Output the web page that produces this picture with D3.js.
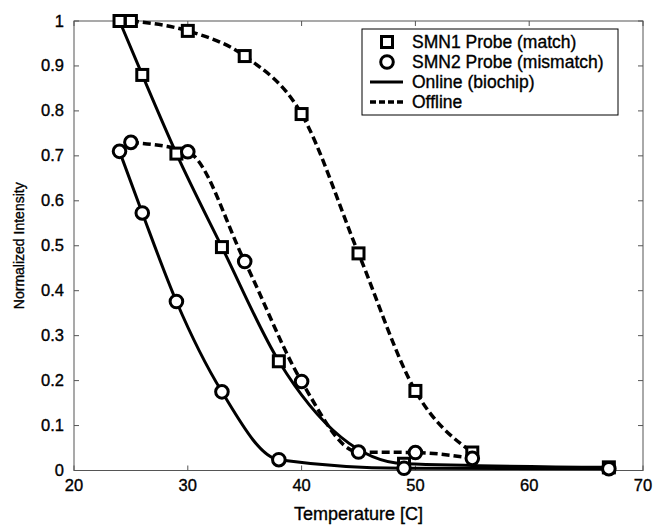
<!DOCTYPE html>
<html><head><meta charset="utf-8">
<script src="https://cdn.jsdelivr.net/npm/d3@7"></script>
<style>body{margin:0;background:#fff}svg{display:block}text{font-family:"Liberation Sans",Arial,sans-serif;fill:#000;stroke:#000;stroke-width:0.35px}</style>
</head><body><svg id="c" width="655" height="525"></svg>
<script>
const xTicks = [20,30,40,50,60,70];
const yTicks = [0,0.1,0.2,0.3,0.4,0.5,0.6,0.7,0.8,0.9,1];
const yTickLabels = ["0","0.1","0.2","0.3","0.4","0.5","0.6","0.7","0.8","0.9","1"];

const onlineT = [24,26,29,33,38,49,67];
const smn1Online = [1.0,0.88,0.705,0.497,0.243,0.015,0.007];
const smn2Online = [0.71,0.573,0.376,0.175,0.024,0.005,0.004];

const offlineT = [25,30,35,40,45,50,55];
const smn1Offline = [1.0,0.978,0.922,0.793,0.483,0.177,0.04];
const smn2Offline = [0.73,0.709,0.465,0.198,0.041,0.04,0.027];

const legendLabels = ["SMN1 Probe (match)","SMN2 Probe (mismatch)","Online (biochip)","Offline"];

const svg = d3.select("#c");
const L=74,R=643,T=21,B=470.5;
const x = d3.scaleLinear().domain([20,70]).range([L,R]);
const y = d3.scaleLinear().domain([0,1]).range([B,T]);
const axisColor="#555";

svg.append("rect").attr("x",L).attr("y",T).attr("width",R-L).attr("height",B-T)
  .attr("fill","none").attr("stroke",axisColor).attr("stroke-width",1);

const tl=5;
xTicks.forEach(v=>{
  svg.append("line").attr("x1",x(v)).attr("x2",x(v)).attr("y1",B).attr("y2",B-tl).attr("stroke",axisColor);
  svg.append("line").attr("x1",x(v)).attr("x2",x(v)).attr("y1",T).attr("y2",T+tl).attr("stroke",axisColor);
  svg.append("text").attr("x",x(v)).attr("y",B+20).attr("text-anchor","middle").attr("font-size",16.5).text(v);
});
yTicks.forEach((v,i)=>{
  svg.append("line").attr("x1",L).attr("x2",L+tl).attr("y1",y(v)).attr("y2",y(v)).attr("stroke",axisColor);
  svg.append("line").attr("x1",R).attr("x2",R-tl).attr("y1",y(v)).attr("y2",y(v)).attr("stroke",axisColor);
  svg.append("text").attr("x",L-10).attr("y",y(v)+5.5).attr("text-anchor","end").attr("font-size",16.5).text(yTickLabels[i]);
});

svg.append("text").attr("x",(L+R)/2).attr("y",520).attr("text-anchor","middle").attr("font-size",18).text("Temperature [C]");
svg.append("text").attr("transform",`translate(24,${(T+B)/2}) rotate(-90)`).attr("text-anchor","middle").attr("font-size",14).text("Normalized Intensity");

const line = d3.line().x(d=>x(d[0])).y(d=>y(d[1])).curve(d3.curveMonotoneX);
const g = svg.append("g");
function drawLine(ts,vs,dashed){
  g.append("path").datum(ts.map((t,i)=>[t,vs[i]])).attr("d",line).attr("fill","none")
   .attr("stroke","#000").attr("stroke-width",dashed?3.5:3)
   .attr("stroke-dasharray",dashed?"8,4":null);
}
drawLine(onlineT,smn1Online,false);
drawLine(onlineT,smn2Online,false);
drawLine(offlineT,smn1Offline,true);
drawLine(offlineT,smn2Offline,true);

function square(sel,px,py){
  sel.append("rect").attr("x",px-5.5).attr("y",py-5.5).attr("width",11).attr("height",11)
   .attr("fill","#fff").attr("stroke","#000").attr("stroke-width",3);
}
function circle(sel,px,py){
  sel.append("circle").attr("cx",px).attr("cy",py).attr("r",6.3)
   .attr("fill","#fff").attr("stroke","#000").attr("stroke-width",3);
}
onlineT.forEach((t,i)=>{square(g,x(t),y(smn1Online[i])); circle(g,x(t),y(smn2Online[i]));});
offlineT.forEach((t,i)=>{square(g,x(t),y(smn1Offline[i])); circle(g,x(t),y(smn2Offline[i]));});

// legend
const lg = svg.append("g");
const lx=362, ly=29, lw=256, lh=86;
lg.append("rect").attr("x",lx).attr("y",ly).attr("width",lw).attr("height",lh).attr("fill","#fff").attr("stroke","#000").attr("stroke-width",1);
const rows=[42,62,82,102];
square(lg,387,rows[0]); circle(lg,387,rows[1]);
lg.append("line").attr("x1",370).attr("x2",403).attr("y1",rows[2]).attr("y2",rows[2]).attr("stroke","#000").attr("stroke-width",3);
lg.append("line").attr("x1",370).attr("x2",403).attr("y1",rows[3]).attr("y2",rows[3]).attr("stroke","#000").attr("stroke-width",3.5).attr("stroke-dasharray","6,3");
legendLabels.forEach((s,i)=>{
  lg.append("text").attr("x",412).attr("y",rows[i]+6).attr("font-size",17.5).text(s);
});
</script></body></html>
